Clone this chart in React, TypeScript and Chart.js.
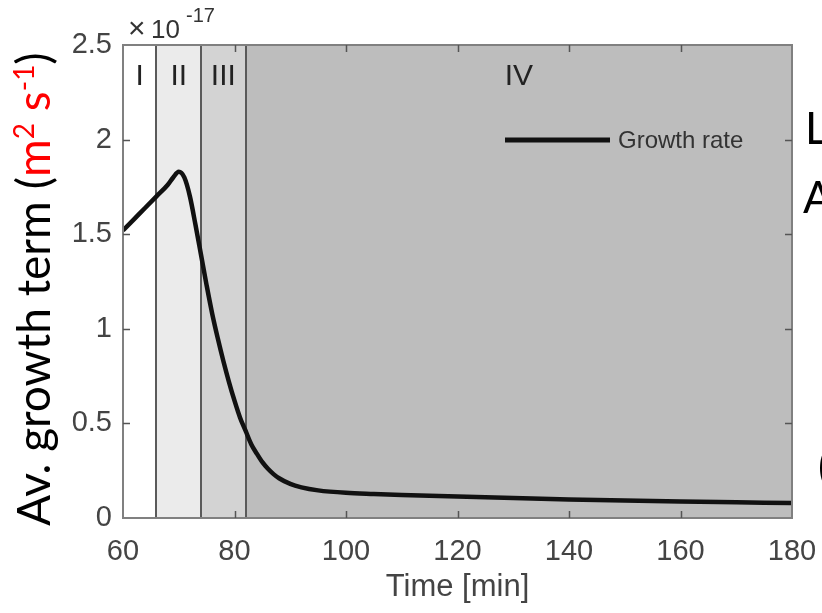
import React, { useEffect, useRef } from "react";
import { Chart, registerables } from "chart.js";

Chart.register(...registerables);

// ---- data (growth term in units of 1e-17 m^2 s^-1) ----
const timeMin = [60, 62, 64, 66, 68, 69, 70, 71, 72, 73, 74, 75, 76, 77, 78, 79, 80, 81, 82, 83, 84, 85, 86, 87, 88, 90, 92, 95, 100, 105, 110, 120, 130, 140, 150, 160, 170, 180];
const growthRate = [1.52, 1.58, 1.64, 1.7, 1.76, 1.8, 1.83, 1.8, 1.7, 1.55, 1.39, 1.23, 1.08, 0.95, 0.83, 0.72, 0.62, 0.53, 0.46, 0.39, 0.34, 0.295, 0.26, 0.232, 0.21, 0.18, 0.162, 0.146, 0.133, 0.127, 0.122, 0.114, 0.106, 0.098, 0.092, 0.087, 0.083, 0.079];
const xTicks = [60, 80, 100, 120, 140, 160, 180];
const yTicks = [0, 0.5, 1, 1.5, 2, 2.5];
const stageBounds = [60, 66, 74, 82, 180];
const stageLabels = ["I", "II", "III", "IV"];
const stageColors = ["#ffffff", "#ebebeb", "#d3d3d3", "#bdbdbd"];
const seriesLabel = "Growth rate";
const xTitle = "Time [min]";
const yTitleParts = [
  { text: "Av. growth term (", color: "#000000", sup: false },
  { text: "m", color: "#ff0000", sup: false },
  { text: "2", color: "#ff0000", sup: true },
  { text: " s", color: "#ff0000", sup: false },
  { text: "-1", color: "#ff0000", sup: true },
  { text: ")", color: "#000000", sup: false },
];
const exponentTimes = "\u00d7";
const exponentBase = "10";
const exponentPower = "-17";
const edgeFragments = [
  { text: "L", x: 805, y: 144 },
  { text: "A", x: 803, y: 213 },
  { text: "(", x: 818, y: 482 },
];

const AX_FONT = "'Liberation Sans', Arial, Helvetica, sans-serif";
const TITLE_FONT = "Lato, 'Open Sans', sans-serif";

const overlayPlugin = {
  id: "overlay",
  beforeDatasetsDraw(chart: any) {
    const { ctx, chartArea: a, scales } = chart;
    const x = scales.x;
    ctx.save();
    for (let i = 0; i < stageLabels.length; i++) {
      const x0 = x.getPixelForValue(stageBounds[i]);
      const x1 = x.getPixelForValue(stageBounds[i + 1]);
      ctx.fillStyle = stageColors[i];
      ctx.fillRect(x0, a.top, x1 - x0, a.bottom - a.top);
    }
    ctx.strokeStyle = "#5a5a5a";
    ctx.lineWidth = 2;
    for (let i = 1; i < stageBounds.length - 1; i++) {
      const px = Math.round(x.getPixelForValue(stageBounds[i]));
      ctx.beginPath();
      ctx.moveTo(px, a.top);
      ctx.lineTo(px, a.bottom);
      ctx.stroke();
    }
    ctx.fillStyle = "#222";
    ctx.font = `30px ${AX_FONT}`;
    ctx.textAlign = "center";
    ctx.textBaseline = "alphabetic";
    for (let i = 0; i < stageLabels.length; i++) {
      const x0 = x.getPixelForValue(stageBounds[i]);
      const x1 = x.getPixelForValue(stageBounds[i + 1]);
      ctx.fillText(stageLabels[i], (x0 + x1) / 2, a.top + 40);
    }
    ctx.restore();
  },
  afterDatasetsDraw(chart: any) {
    const { ctx, chartArea: a, scales } = chart;
    const x = scales.x;
    const y = scales.y;
    ctx.save();
    // box
    ctx.strokeStyle = "#808080";
    ctx.lineWidth = 2;
    ctx.strokeRect(a.left, a.top, a.right - a.left, a.bottom - a.top);
    // inward ticks
    ctx.strokeStyle = "#555";
    ctx.lineWidth = 1.5;
    const tl = 7;
    xTicks.forEach((v) => {
      if (v === xTicks[0] || v === xTicks[xTicks.length - 1]) return;
      const px = Math.round(x.getPixelForValue(v)) + 0.5;
      ctx.beginPath();
      ctx.moveTo(px, a.bottom);
      ctx.lineTo(px, a.bottom - tl);
      ctx.moveTo(px, a.top);
      ctx.lineTo(px, a.top + tl);
      ctx.stroke();
    });
    yTicks.forEach((v) => {
      if (v === yTicks[0] || v === yTicks[yTicks.length - 1]) return;
      const py = Math.round(y.getPixelForValue(v)) + 0.5;
      ctx.beginPath();
      ctx.moveTo(a.left, py);
      ctx.lineTo(a.left + tl, py);
      ctx.moveTo(a.right, py);
      ctx.lineTo(a.right - tl, py);
      ctx.stroke();
    });
    // legend
    ctx.strokeStyle = "#111";
    ctx.lineWidth = 5;
    ctx.beginPath();
    ctx.moveTo(505, 140);
    ctx.lineTo(610, 140);
    ctx.stroke();
    ctx.fillStyle = "#333";
    ctx.font = `24px ${AX_FONT}`;
    ctx.textAlign = "left";
    ctx.textBaseline = "middle";
    ctx.fillText(seriesLabel, 618, 141);
    // exponent
    ctx.textBaseline = "alphabetic";
    ctx.fillStyle = "#333";
    ctx.font = `30px ${AX_FONT}`;
    ctx.fillText(exponentTimes, 128, 38);
    ctx.font = `26px ${AX_FONT}`;
    ctx.fillText(exponentBase, 151, 38);
    ctx.font = `20px ${AX_FONT}`;
    ctx.fillText(exponentPower, 186, 22);
    // y title
    ctx.save();
    ctx.translate(50, 526);
    ctx.rotate(-Math.PI / 2);
    let pos = 0;
    yTitleParts.forEach((p) => {
      ctx.font = p.sup ? `28px ${TITLE_FONT}` : `46px ${TITLE_FONT}`;
      ctx.fillStyle = p.color;
      ctx.fillText(p.text, pos, p.sup ? -16 : 0);
      pos += ctx.measureText(p.text).width;
    });
    ctx.restore();
    // fragments of neighbouring text at the right edge
    ctx.fillStyle = "#000";
    ctx.font = `44px ${TITLE_FONT}`;
    edgeFragments.forEach((f) => ctx.fillText(f.text, f.x, f.y));
    ctx.restore();
  },
};

export default function App() {
  const ref = useRef<HTMLCanvasElement | null>(null);
  useEffect(() => {
    if (!ref.current) return;
    const chart = new Chart(ref.current, {
      type: "line",
      data: {
        datasets: [
          {
            label: seriesLabel,
            data: timeMin.map((t, i) => ({ x: t, y: growthRate[i] })),
            borderColor: "#111",
            borderWidth: 4.5,
            pointRadius: 0,
            cubicInterpolationMode: "monotone",
            fill: false,
          },
        ],
      },
      options: {
        responsive: false,
        animation: false,
        devicePixelRatio: 1,
        layout: { padding: { top: 45, right: 30, left: 0, bottom: 0 } },
        plugins: { legend: { display: false }, tooltip: { enabled: false } },
        scales: {
          x: {
            type: "linear",
            min: 60,
            max: 180,
            afterBuildTicks: (s: any) => {
              s.ticks = xTicks.map((v) => ({ value: v }));
            },
            afterFit: (s: any) => {
              s.height = 95;
              s.paddingLeft = 0;
              s.paddingRight = 0;
            },
            grid: { display: false, drawTicks: false },
            border: { display: false },
            ticks: {
              autoSkip: false,
              maxRotation: 0,
              padding: 17,
              color: "#444",
              font: { family: AX_FONT, size: 29 },
              callback: (v: any) => String(v),
            },
            title: {
              display: true,
              text: xTitle,
              color: "#444",
              font: { family: AX_FONT, size: 31 },
              padding: { top: 0, bottom: 7 },
            },
          },
          y: {
            type: "linear",
            min: 0,
            max: 2.5,
            afterBuildTicks: (s: any) => {
              s.ticks = yTicks.map((v) => ({ value: v }));
            },
            afterFit: (s: any) => {
              s.width = 123;
              s.paddingTop = 0;
              s.paddingBottom = 0;
            },
            grid: { display: false, drawTicks: false },
            border: { display: false },
            ticks: {
              padding: 11,
              color: "#444",
              font: { family: AX_FONT, size: 29 },
              callback: (v: any) => String(v),
            },
          },
        },
      },
      plugins: [overlayPlugin],
    } as any);
    return () => chart.destroy();
  }, []);
  return (
    <div style={{ position: "fixed", left: 0, top: 0, width: 822, height: 613, background: "#fff" }}>
      <canvas ref={ref} width={822} height={613} />
    </div>
  );
}
